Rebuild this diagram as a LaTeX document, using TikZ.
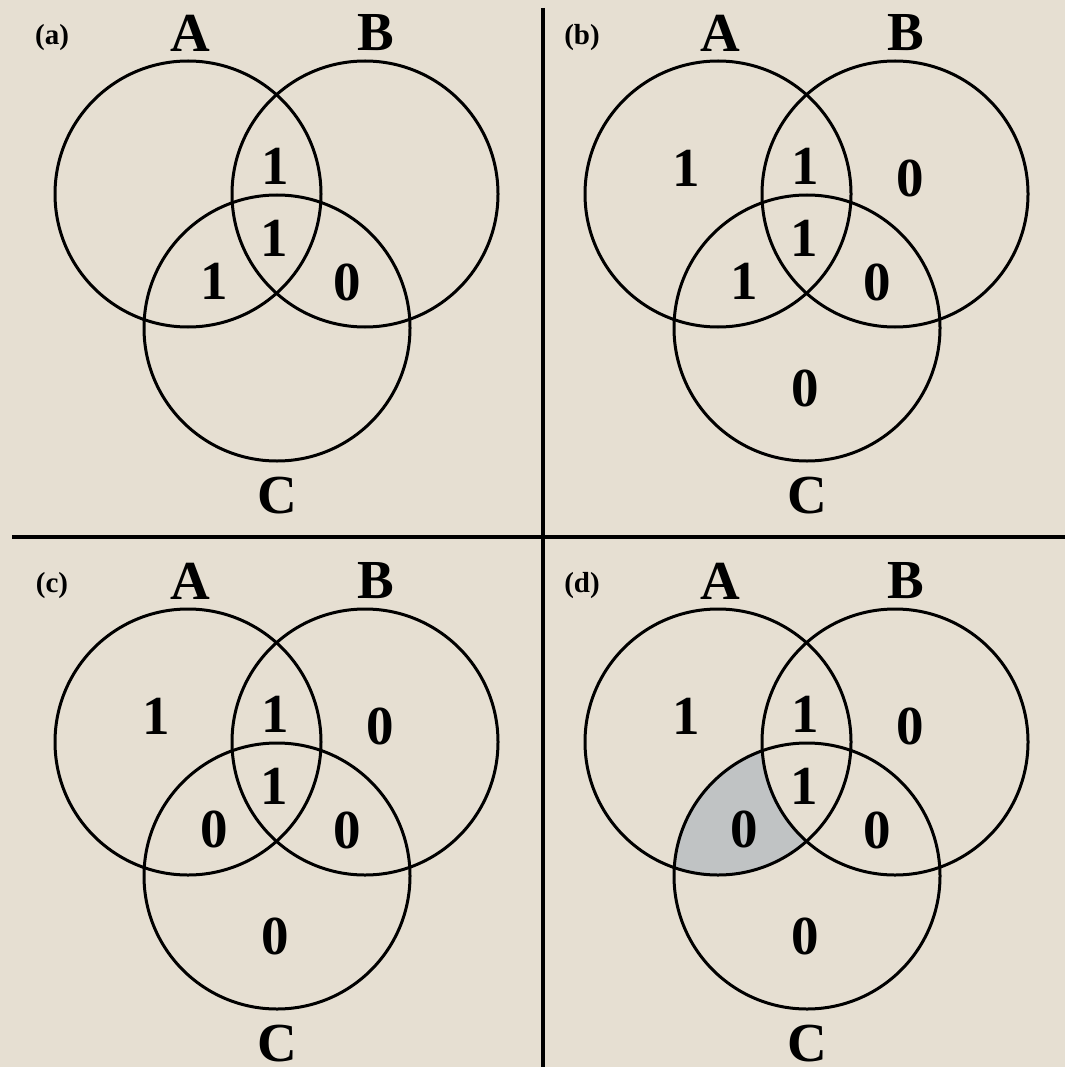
\documentclass[tikz,border=0pt]{standalone}
\usepackage{fontspec}
\setmainfont{Liberation Serif}
\definecolor{bg}{RGB}{230,223,210}
\definecolor{shadecol}{RGB}{192,195,196}
\tikzset{
  ring/.style={draw=black, line width=3pt},
  digit/.style={font=\fontsize{55}{60}\selectfont\bfseries, inner sep=0pt},
  setlabel/.style={font=\fontsize{55}{60}\selectfont\bfseries, inner sep=0pt},
  paneltag/.style={font=\fontsize{29}{32}\selectfont\bfseries, inner sep=0pt},
  divider/.style={draw=black, line width=3.5pt},
}
% #1 prefix, #2 tag, #3 A only, #4 A&B, #5 B only, #6 A&B&C, #7 A&C, #8 B&C, #9 C only
\newcommand\vennpanel[9]{%
  \coordinate (#1cA) at (188,194);
  \coordinate (#1cB) at (365,194);
  \coordinate (#1cC) at (277,328);
  \draw[ring] (#1cA) circle[radius=133pt];
  \draw[ring] (#1cB) circle[radius=133pt];
  \draw[ring] (#1cC) circle[radius=133pt];
  \node[paneltag] (#1tag) at (52,38) {#2};
  \node[setlabel] (#1labA) at (190,33) {A};
  \node[setlabel] (#1labB) at (376,33) {B};
  \node[setlabel] (#1labC) at (277,496) {C};
  \node[digit] (#1a) at (156,168) {#3};
  \node[digit] (#1ab) at (275,166) {#4};
  \node[digit] (#1b) at (380,178) {#5};
  \node[digit] (#1abc) at (274,238) {#6};
  \node[digit] (#1ac) at (214,281) {#7};
  \node[digit] (#1bc) at (347,282) {#8};
  \node[digit] (#1c) at (275,388) {#9};
}
\begin{document}
\begin{tikzpicture}[x=1pt,y=-1pt]
  \useasboundingbox (0,0) rectangle (1065,1067);
  \fill[bg] (0,0) rectangle (1065,1067);
  % dividers
  \coordinate (vtop) at (543,8);
  \coordinate (vbot) at (543,1067);
  \coordinate (hleft) at (12,537);
  \coordinate (hright) at (1065,537);
  \draw[divider] (vtop) -- (vbot);
  \draw[divider] (hleft) -- (hright);
  % (a)
  \begin{scope}
    \vennpanel{pa}{(a)}{}{1}{}{1}{1}{0}{}
  \end{scope}
  % (b)
  \begin{scope}[shift={(530,0)}]
    \vennpanel{pb}{(b)}{1}{1}{0}{1}{1}{0}{0}
  \end{scope}
  % (c)
  \begin{scope}[shift={(0,548)}]
    \vennpanel{pc}{(c)}{1}{1}{0}{1}{0}{0}{0}
  \end{scope}
  % (d)
  \begin{scope}[shift={(530,548)}]
    \begin{scope}
      \clip (188,194) circle[radius=133pt];
      \clip (277,328) circle[radius=133pt];
      \fill[shadecol, even odd rule] (-10,-10) rectangle (540,540) (365,194) circle[radius=133pt];
    \end{scope}
    \vennpanel{pd}{(d)}{1}{1}{0}{1}{0}{0}{0}
  \end{scope}
\end{tikzpicture}
\end{document}
